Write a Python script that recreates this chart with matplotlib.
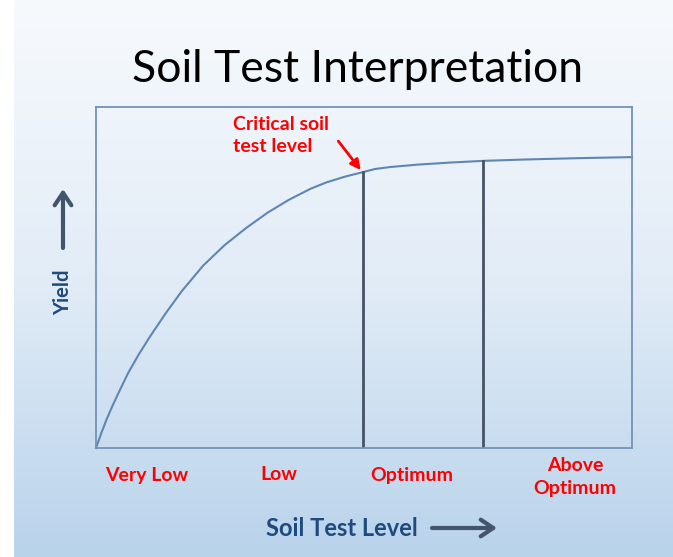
import numpy as np
import matplotlib
matplotlib.use("Agg")
import matplotlib.pyplot as plt
from matplotlib.colors import LinearSegmentedColormap

plt.rcParams['font.family'] = ['Lato', 'DejaVu Sans']

## data (soil test level 0-100, yield 0-100)
soil_level = [0, 1, 2, 3, 4, 6, 8, 10, 13, 16, 20, 24, 28, 32, 36, 40, 43, 46.5, 49.8,
              52, 54.9, 60, 66, 72.2, 80, 90, 100]
yield_val = [0, 4.4, 8.5, 12.1, 15.5, 22, 27.5, 32.5, 39.5, 46, 53.5, 59.5, 64.5, 69, 72.8, 76,
             77.9, 79.6, 80.9, 81.8, 82.4, 83.1, 83.7, 84.2, 84.6, 85.0, 85.3]
boundaries = [49.8, 72.2]
critical_level = 49.8
categories = ["Very Low", "Low", "Optimum", "Above\nOptimum"]
cat_x = [147, 279, 412, 575]
cat_y = [476, 475, 476, 477]

W, H = 673, 557
fig = plt.figure(figsize=(W / 100, H / 100), dpi=100)
fig.patch.set_facecolor("white")

## background slide gradient + overlay for text in pixel coords
bg = fig.add_axes([0, 0, 1, 1])
bg.set_xlim(0, W)
bg.set_ylim(H, 0)
bg.axis("off")
cmap = LinearSegmentedColormap.from_list("slide", ["#F7FAFD", "#E2ECF7", "#B9D3EB"])
grad = np.linspace(0, 1, 256).reshape(-1, 1)
bg.imshow(grad, cmap=cmap, extent=[14, W, H, 0], aspect="auto", zorder=0)

## main chart
ax = fig.add_axes([96 / W, (H - 448) / H, 536 / W, 341 / H])
ax.set_facecolor("none")
ax.set_xlim(0, 100)
ax.set_ylim(0, 100)
ax.set_xticks([])
ax.set_yticks([])
for s in ax.spines.values():
    s.set_color("#7393B8")
    s.set_linewidth(1.3)

ax.plot(soil_level, yield_val, color="#5F86B3", lw=1.5, clip_on=False,
        solid_joinstyle="round")
for b in boundaries:
    top = np.interp(b, soil_level, yield_val)
    ax.plot([b, b], [0, top], color="#465265", lw=2.0)

ax.text(25.6, 97.5, "Critical soil\ntest level", color="red", fontsize=14,
        fontweight="bold", ha="left", va="top", linespacing=1.4)
ax.annotate("", xy=(critical_level - 0.4, np.interp(critical_level, soil_level, yield_val) + 0.6),
            xytext=(45.2, 90.0),
            arrowprops=dict(arrowstyle="-|>", color="red", lw=2, mutation_scale=15,
                            shrinkA=0, shrinkB=0))

## title and labels
bg.text(357, 69, "Soil Test Interpretation", fontsize=32, color="black",
        ha="center", va="center")
for lab, x, y in zip(categories, cat_x, cat_y):
    bg.text(x, y, lab, color="red", fontsize=14, fontweight="bold",
            ha="center", va="center", linespacing=1.4)

arrow_kw = dict(arrowstyle="->,head_length=0.45,head_width=0.3", color="#44546A", lw=3,
                shrinkA=0, shrinkB=0, mutation_scale=20)
bg.text(342, 529, "Soil Test Level", color="#1F4A7D", fontsize=17,
        fontweight="bold", ha="center", va="center")
bg.annotate("", xy=(497, 528), xytext=(432, 528), arrowprops=arrow_kw)

bg.text(63, 292, "Yield", color="#1F4A7D", fontsize=14.5, fontweight="bold",
        ha="center", va="center", rotation=90)
bg.annotate("", xy=(63, 189), xytext=(63, 248), arrowprops=arrow_kw)

fig.savefig("out.png", dpi=100)
